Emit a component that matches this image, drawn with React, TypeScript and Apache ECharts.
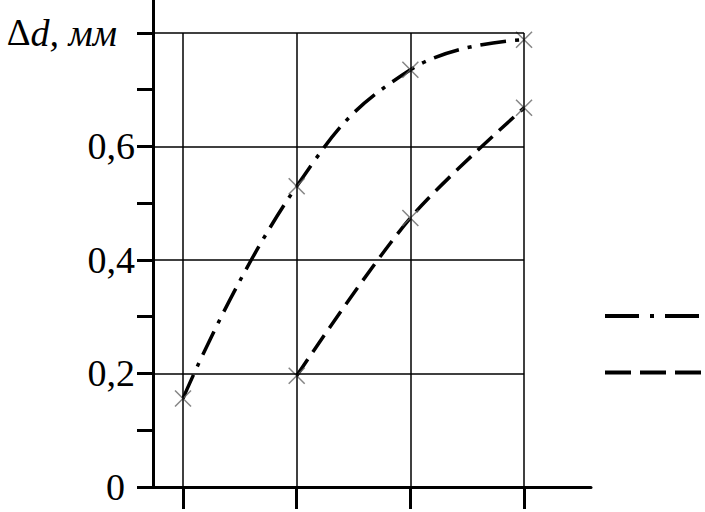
import React, { useEffect, useRef } from "react";
import * as echarts from "echarts";

const xPositions = [1, 2, 3, 4];
const seriesA = [0.156, 0.53, 0.735, 0.788]; // dash-dot
const seriesBX = [2, 3, 4];
const seriesB = [0.196, 0.474, 0.668]; // dashed
const yTicks = [0, 0.1, 0.2, 0.3, 0.4, 0.5, 0.6, 0.7, 0.8];
const yLabels = [0, 0.2, 0.4, 0.6, 0.8];
const gridTop = 0.8;

const crossPath = "path://M0 0L10 10M10 0L0 10";

export default function App() {
  const ref = useRef<HTMLDivElement>(null);
  useEffect(() => {
    if (!ref.current) return;
    const chart = echarts.init(ref.current, null, { renderer: "svg" });
    const aData = xPositions.map((x, i) => [x, seriesA[i]]);
    const bData = seriesBX.map((x, i) => [x, seriesB[i]]);
    const vLines = xPositions.map((x) => [{ coord: [x, 0] }, { coord: [x, gridTop] }]);
    const hLines = yLabels
      .filter((v) => v > 0)
      .map((v) => [{ coord: [0.736, v] }, { coord: [xPositions[xPositions.length - 1], v] }]);
    chart.setOption({
      animation: false,
      backgroundColor: "#fff",
      grid: { left: 153, right: 114, top: 0, bottom: 25, containLabel: false },
      xAxis: {
        type: "value",
        min: 0.736,
        max: 4.589,
        axisLine: { lineStyle: { color: "#000", width: 3 } },
        axisTick: { customValues: xPositions, length: 22, inside: false, lineStyle: { color: "#000", width: 3 } },
        axisLabel: { show: false },
        splitLine: { show: false },
      },
      yAxis: {
        type: "value",
        min: 0,
        max: 0.858,
        axisLine: { show: true, lineStyle: { color: "#000", width: 3 } },
        axisTick: { show: true, customValues: yTicks, length: 16, lineStyle: { color: "#000", width: 3 } },
        axisLabel: {
          customValues: yLabels,
          margin: 18,
          fontFamily: "Liberation Serif",
          fontSize: 38,
          color: "#000",
          formatter: (v: number) =>
            Math.abs(v - 0.8) < 1e-6
              ? "{a|Δ}{b|d, мм}"
              : v === 0
              ? "{z|0}"
              : String(v).replace(".", ","),
          rich: {
            a: { fontFamily: "Liberation Serif", fontSize: 37, color: "#000" },
            b: { fontFamily: "Liberation Serif", fontStyle: "italic", fontSize: 38, color: "#000", padding: [0, 18, 0, 0] },
            z: { fontFamily: "Liberation Serif", fontSize: 38, color: "#000", padding: [0, 10, 0, 0] },
          },
        },
        splitLine: { show: false },
      },
      legend: {
        right: 2,
        top: 309,
        padding: 0,
        orient: "vertical",
        itemWidth: 96,
        itemHeight: 14,
        itemGap: 44,
        formatter: () => "",
        textStyle: { fontSize: 1 },
        itemStyle: { opacity: 0 },
        data: [
          { name: "A", lineStyle: { type: [34, 11, 4, 11], width: 4, color: "#000" } },
          { name: "B", lineStyle: { type: [26, 9], width: 4, color: "#000" } },
        ],
      },
      series: [
        {
          name: "grid",
          type: "line",
          data: [],
          markLine: {
            silent: true,
            symbol: "none",
            label: { show: false },
            lineStyle: { color: "#000", width: 1.5, type: "solid" },
            data: [...vLines, ...hLines],
          },
        },
        {
          name: "A",
          type: "line",
          data: aData,
          smooth: 0.45,
          symbol: "none",
          lineStyle: { color: "#000", width: 3.5, type: [26, 9, 4, 9] },
          itemStyle: { color: "#000" },
          z: 3,
        },
        {
          name: "B",
          type: "line",
          data: bData,
          smooth: 0.3,
          symbol: "none",
          lineStyle: { color: "#000", width: 3.5, type: [20, 9] },
          itemStyle: { color: "#000" },
          z: 3,
        },
        {
          name: "markersA",
          type: "scatter",
          data: aData,
          symbol: crossPath,
          symbolSize: 16,
          itemStyle: { color: "none", borderColor: "#666", borderWidth: 1.5 },
          z: 4,
        },
        {
          name: "markersB",
          type: "scatter",
          data: bData,
          symbol: crossPath,
          symbolSize: 16,
          itemStyle: { color: "none", borderColor: "#666", borderWidth: 1.5 },
          z: 4,
        },
      ],
    });
    return () => chart.dispose();
  }, []);
  return <div ref={ref} style={{ width: 705, height: 512, position: "absolute", left: 0, top: 0 }} />;
}
